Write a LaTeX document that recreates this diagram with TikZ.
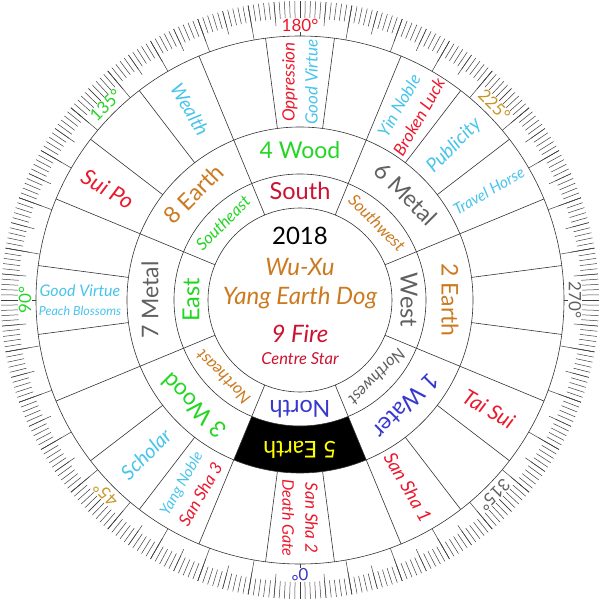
\documentclass[tikz,border=0pt]{standalone}
\usepackage{fontspec}
\setmainfont{Lato}
\definecolor{fsred}{RGB}{236,24,44}
\definecolor{fscrimson}{RGB}{204,18,48}
\definecolor{fscyan}{RGB}{72,196,236}
\definecolor{fsgreen}{RGB}{36,214,36}
\definecolor{fsorange}{RGB}{204,122,32}
\definecolor{fsgold}{RGB}{200,150,40}
\definecolor{fsgray}{RGB}{96,96,96}
\definecolor{fsblue}{RGB}{56,56,204}
\definecolor{fsyellow}{RGB}{255,255,0}
\newcommand{\fsize}[2]{\fontsize{#1}{#2}\selectfont}

\begin{document}
\begin{tikzpicture}[x=1pt,y=1pt,
    ring/.style={line width=0.6pt, black!80},
    tickmark/.style={line width=0.5pt, black!75},
    deg/.style={font=\fsize{17}{18}, fill=white, inner sep=0.5pt},
    dirbig/.style={font=\fsize{23.5}{24}, inner sep=0pt},
    dirsmall/.style={font=\fsize{16.5}{18}\itshape, inner sep=0pt},
    star/.style={font=\fsize{23}{24}, inner sep=0pt},
    cell/.style={font=\fsize{17}{23}\itshape, align=center, inner sep=0pt}]
\useasboundingbox (-300,-300) rectangle (300,300);

% tick ring
\foreach \t in {0,...,359}
    \draw[tickmark] (\t:282) -- (\t:299);
\foreach \t in {0,5,...,355}
    \draw[tickmark] (\t:275) -- (\t:299);
\foreach \t in {0,10,...,350}
    \draw[tickmark] (\t:264) -- (\t:299);

% 5 Earth sector
\fill[black] (-112.5:126) arc (-112.5:-67.5:126) -- (-67.5:173) arc (-67.5:-112.5:173) -- cycle;

% circles
\draw[ring] (0,0) circle (92);
\draw[ring] (0,0) circle (126);
\draw[ring] (0,0) circle (173);
\draw[ring] (0,0) circle (264);

% sector lines
\foreach \t in {22.5,67.5,...,337.5}
    \draw[ring] (\t:92) -- (\t:173);
\foreach \t in {7.5,22.5,...,352.5}
    \draw[ring] (\t:173) -- (\t:264);

% degrees
\node[deg, text=fsblue, rotate=180] (d0) at (-90:275) {0°};
\node[deg, text=fsgold, rotate=135] (d45) at (-135:275) {45°};
\node[deg, text=fsgreen, rotate=90] (d90) at (180:275) {90°};
\node[deg, text=fsgreen, rotate=45] (d135) at (135:275) {135°};
\node[deg, text=fsred] (d180) at (90:275) {180°};
\node[deg, text=fsgold, rotate=-45] (d225) at (45:275) {225°};
\node[deg, text=fsgray, rotate=-90] (d270) at (0:275) {270°};
\node[deg, text=fsgray, rotate=-135] (d315) at (-45:275) {315°};

% centre
\node[font=\fsize{24}{26}] (year) at (0,64) {2018};
\node[font=\fsize{24}{26}\itshape, fsorange] (wuxu) at (0,33) {Wu-Xu};
\node[font=\fsize{24}{26}\itshape, fsorange] (dog) at (0,2) {Yang Earth Dog};
\node[font=\fsize{24}{26}\itshape, fscrimson] (fire) at (0,-34) {9 Fire};
\node[font=\fsize{16.5}{18}\itshape, fscrimson] (centre) at (0,-59) {Centre Star};

% directions
\node[dirbig, fscrimson] (south) at (90:109) {South};
\node[dirsmall, fsorange, rotate=-45] (sw) at (45:109) {Southwest};
\node[dirbig, fsgray, rotate=-90] (west) at (0:109) {West};
\node[dirsmall, fsgray, rotate=-135] (nw) at (-45:109) {Northwest};
\node[dirbig, fsblue, rotate=180] (north) at (-90:109) {North};
\node[dirsmall, fsorange, rotate=135] (ne) at (-135:109) {Northeast};
\node[dirbig, fsgreen, rotate=90] (east) at (180:109) {East};
\node[dirsmall, fsgreen, rotate=45] (se) at (135:109) {Southeast};

% stars
\node[star, fsgreen] (s4) at (90:150) {4 Wood};
\node[star, fsgray, rotate=-45] (s6) at (45:150) {6 Metal};
\node[star, fsorange, rotate=-90] (s2) at (0:150) {2 Earth};
\node[star, fsblue, rotate=-135] (s1) at (-45:150) {1 Water};
\node[star, fsyellow, rotate=180] (s5) at (-90:150) {5 Earth};
\node[star, fsgreen, rotate=135] (s3) at (-135:150) {3 Wood};
\node[star, fsgray, rotate=90] (s7) at (180:150) {7 Metal};
\node[star, fsorange, rotate=45] (s8) at (135:150) {8 Earth};

% mountains
\node[cell, fsred, rotate=-90] (m0) at (-90:218) {San Sha 2\\\fsize{16}{23}Death Gate};
\node[cell, rotate=60] (m30) at (-120:218) {\fsize{15}{23}\color{fscyan}Yang Noble\\\fsize{17}{23}\color{fsred}San Sha 3};
\node[cell, fscyan, rotate=45, font=\fsize{20}{23}\itshape] (m45) at (-135:218) {Scholar};
\node[cell, fscyan, font=\fsize{16}{19}\itshape] (m90) at (180:220) {Good Virtue\\\fsize{12.5}{19}Peach Blossoms};
\node[cell, fsred, rotate=-30, font=\fsize{22}{23}\itshape] (m120) at (150:222) {Sui Po};
\node[cell, fscyan, rotate=-60, font=\fsize{19}{23}\itshape] (m150) at (120:220) {Wealth};
\node[cell, rotate=90] (m180) at (90:218) {\color{fsred}Oppression\\\color{fscyan}Good Virtue};
\node[cell, rotate=60] (m210) at (60:218) {\color{fscyan}Yin Noble\\\color{fsred}Broken Luck};
\node[cell, fscyan, rotate=45, font=\fsize{19}{23}\itshape] (m225) at (45:218) {Publicity};
\node[cell, fscyan, rotate=30, font=\fsize{15.5}{18}\itshape] (m240) at (30:218) {Travel Horse};
\node[cell, fsred, rotate=-30, font=\fsize{21}{23}\itshape] (m300) at (-30:218) {Tai Sui};
\node[cell, fsred, rotate=-60, font=\fsize{18.5}{23}\itshape] (m330) at (-60:216) {San Sha 1};
\end{tikzpicture}
\end{document}
